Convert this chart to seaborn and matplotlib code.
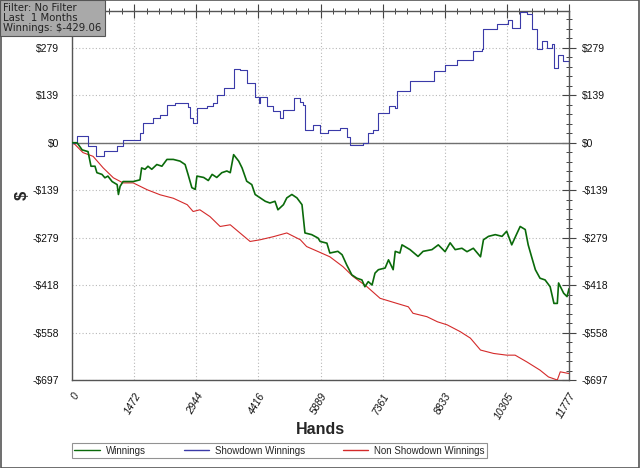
import numpy as np
import pandas as pd
import matplotlib
matplotlib.use("Agg")
import matplotlib.pyplot as plt
from matplotlib.lines import Line2D
from matplotlib.patches import Rectangle
from matplotlib.ticker import FixedLocator, AutoMinorLocator
import seaborn as sns

# ---- data (hands, dollars) ----
sd_hands = [0, 120, 260, 380, 570, 760, 900, 1060, 1210, 1450, 1610, 1690, 1920, 2090, 2250, 2440,
            2630, 2750, 2800, 2870, 2960, 3200, 3350, 3430, 3590, 3790, 3830, 3980, 4140, 4340,
            4420, 4460, 4620, 4770, 4930, 5000, 5090, 5250, 5400, 5480, 5520, 5720, 5880, 6070,
            6350, 6510, 6590, 6900, 7020, 7140, 7260, 7500, 7660, 7700, 8020, 8330, 8570, 8840,
            9120, 9510, 9710, 9750, 10070, 10340, 10420, 10620, 10780, 10900, 11020, 11140, 11260,
            11370, 11420, 11520, 11640, 11777]
sd_vals = [0, 20, 20, -11, -40, -25, -25, -11, 9, 9, 29, 58, 73, 82, 112, 118,
           117, 105, 73, 58, 102, 107, 117, 141, 161, 161, 217, 213, 176, 135,
           117, 135, 107, 92, 73, 95, 97, 131, 120, 112, 38, 53, 29, 38,
           44, 18, -6, 0, 29, 38, 88, 107, 102, 151, 181, 181, 210, 229,
           244, 269, 274, 333, 348, 362, 338, 385, 377, 333, 274, 298, 279,
           289, 220, 259, 240, 229]

win_hands = [0, 120, 240, 380, 450, 545, 590, 710, 780, 850, 950, 1070, 1100, 1140, 1210, 1450,
             1610, 1650, 1730, 1800, 1890, 2010, 2130, 2250, 2400, 2560, 2680, 2750, 2840, 2920,
             2960, 3120, 3230, 3320, 3430, 3550, 3670, 3750, 3830, 3950, 4030, 4140, 4260, 4340,
             4460, 4580, 4690, 4810, 4880, 5010, 5090, 5210, 5330, 5450, 5520, 5680, 5830,
             5880, 6040, 6110, 6300, 6400, 6510, 6630, 6750, 6870, 6940, 7020, 7110, 7180, 7260,
             7420, 7500, 7610, 7660, 7770, 7820, 8010, 8200, 8320, 8530, 8680, 8840, 8960, 9080,
             9240, 9360, 9510, 9680, 9750, 9870, 10030, 10190, 10300, 10420, 10530, 10620, 10740,
             10810, 10900, 10980, 11090, 11210, 11330, 11420, 11500, 11530, 11650, 11730, 11777]
win_vals = [0, 0, -21, -26, -69, -69, -88, -93, -103, -98, -114, -123, -152, -128, -114, -114,
            -109, -74, -78, -69, -78, -64, -69, -49, -49, -54, -64, -93, -132, -137,
            -98, -102, -111, -93, -102, -88, -83, -88, -35, -54, -74, -113, -123, -152,
            -162, -172, -177, -172, -197, -182, -162, -152, -162, -182, -265, -270, -280,
            -290, -295, -324, -319, -329, -359, -388, -398, -403, -423, -408, -418, -383, -373,
            -368, -344, -373, -319, -324, -300, -314, -334, -319, -314, -300, -320, -294, -314,
            -310, -320, -310, -335, -285, -275, -270, -275, -260, -300, -270, -246, -255,
            -300, -339, -373, -398, -403, -423, -472, -472, -412, -442, -452, -429]

nsd_hands = [0, 70, 260, 500, 740, 980, 1210, 1450, 1780, 2090, 2400, 2730, 2870, 3030, 3270,
             3510, 3750, 3980, 4220, 4460, 4770, 5090, 5410, 5560, 5800, 6110, 6420, 6660, 6990,
             7300, 7700, 7970, 8080, 8410, 8660, 8890, 9200, 9440, 9680, 9990, 10300, 10500,
             10780, 11090, 11290, 11500, 11570, 11777]
nsd_vals = [0, -5, -29, -40, -74, -103, -118, -118, -138, -153, -163, -182, -202, -197, -217,
            -246, -241, -265, -290, -285, -276, -265, -285, -305, -318, -335, -364, -393, -423,
            -457, -472, -482, -501, -511, -526, -535, -555, -574, -609, -619, -624, -624,
            -644, -668, -688, -697, -673, -678]

x_ticks = [0, 1472.125, 2944.25, 4416.375, 5888.5, 7360.625, 8832.75, 10304.875, 11777]
x_labels = ["0", "1472", "2944", "4416", "5889", "7361", "8833", "10305", "11777"]
y_ticks = [-697, -557.6, -418.2, -278.8, -139.4, 0, 139.4, 278.8]
y_labels = ["-$697", "-$558", "-$418", "-$279", "-$139", "$0", "$139", "$279"]

series_names = ["Winnings", "Showdown Winnings", "Non Showdown Winnings"]
series_colors = ["#0a6a0a", "#3a3aa8", "#d42a2a"]

# ---- figure ----
sns.set_style("white")
plt.rcParams["font.family"] = ["Liberation Sans", "DejaVu Sans"]

fig = plt.figure(figsize=(6.4, 4.68), dpi=100)
ax = fig.add_axes([72 / 640, 1 - 380 / 468, (569 - 72) / 640, (380 - 11) / 468])

ax.grid(True, which="major", linestyle=(0, (1, 2)), color="#b8b8b8", linewidth=0.8)
ax.axhline(0, color="#707070", linewidth=1.0, zorder=1)

sns.lineplot(x=nsd_hands, y=nsd_vals, ax=ax, color=series_colors[2], linewidth=0.8,
             estimator=None, sort=False, zorder=3)
sns.lineplot(x=sd_hands, y=sd_vals, ax=ax, color=series_colors[1], linewidth=0.8,
             estimator=None, sort=False, zorder=3, drawstyle="steps-post")
sns.lineplot(x=win_hands, y=win_vals, ax=ax, color=series_colors[0], linewidth=1.2,
             estimator=None, sort=False, zorder=4)

ax.set_xlim(0, 11777)
ax.set_ylim(-697, 387)

ax.xaxis.set_major_locator(FixedLocator(x_ticks))
ax.yaxis.set_major_locator(FixedLocator(y_ticks))
ax.set_xticklabels(x_labels)
ax.set_yticklabels(y_labels)
ax.xaxis.set_minor_locator(AutoMinorLocator(5))
ax.yaxis.set_minor_locator(AutoMinorLocator(5))

for s in ax.spines.values():
    s.set_color("#555555")
    s.set_linewidth(1.0)

ax.tick_params(axis="both", which="major", direction="inout", length=10, width=0.8,
               color="#444444", labelsize=7.5, labelcolor="#111111",
               top=True, right=True, labelright=True, labelleft=True, labeltop=False)
ax.tick_params(axis="both", which="minor", direction="inout", length=5, width=0.7,
               color="#444444", top=True, right=True)
ax.tick_params(axis="y", which="major", pad=4)
ax.tick_params(axis="x", which="major", pad=3)

for lbl in ax.get_xticklabels():
    lbl.set_rotation(60)
    lbl.set_ha("right")
    lbl.set_va("top")
    lbl.set_rotation_mode("anchor")
    lbl.set_fontstyle("italic")

ax.set_xlabel("Hands", fontsize=11.5, fontweight="bold")
ax.set_ylabel("$", fontsize=12, fontweight="bold")
ax.xaxis.set_label_coords(0.5, -(430 - 380) / 369, transform=ax.transAxes)
ax.yaxis.label.set_va("center")
ax.xaxis.label.set_va("center")
ax.yaxis.set_label_coords(-(72 - 22) / 497, 0.5)

# legend
handles = [Line2D([0], [0], color=c, lw=1.0) for c in series_colors]
leg = fig.legend(handles, series_names, loc="lower left",
                 bbox_to_anchor=(72 / 640, 1 - 458 / 468, (487 - 72) / 640, 14 / 468),
                 mode="expand", ncol=3, fontsize=7, frameon=True, fancybox=False,
                 handlelength=2.6, handletextpad=0.6, borderpad=0.25, borderaxespad=0)
leg.get_frame().set_edgecolor("#777777")
leg.get_frame().set_linewidth(0.8)

# info box
fig.text(0.005, 0.993, "Filter: No Filter\nLast  1 Months\nWinnings: $-429.06",
         ha="left", va="top", fontsize=7.3, family="DejaVu Sans", color="#222222",
         linespacing=1.0,
         bbox=dict(boxstyle="square,pad=0.3", fc="#a9a9a9", ec="#555555", lw=0.8))

# figure border
fig.patches.append(Rectangle((0.001, 0.001), 0.998, 0.998, transform=fig.transFigure,
                             fill=False, edgecolor="#555555", linewidth=1.2))

fig.savefig("out.png", dpi=100)
